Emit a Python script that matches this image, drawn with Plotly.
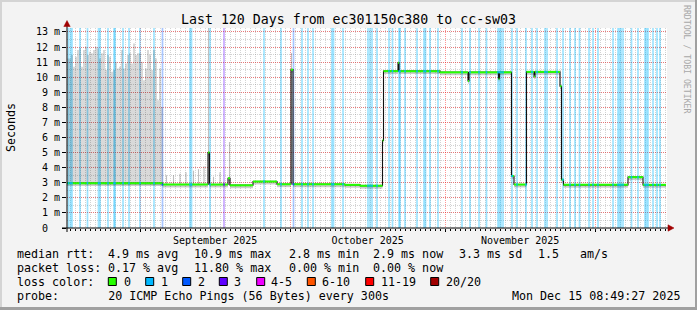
import bisect
from datetime import datetime, timedelta
import plotly.graph_objects as go

# ---------------- data ----------------
END = datetime(2025, 12, 15, 8, 49, 27)
SPAN_DAYS = 120
START = END - timedelta(days=SPAN_DAYS)
Y_MAX = 13.26

title_text = "Last 120 Days from ec301150c380 to cc-sw03"

# median rtt (ms) as step changes, x = days since START
median_day = [0.0, 19.1, 28.2, 28.5, 32.2, 32.6, 37.2, 42.0, 44.8, 45.2,
              55.6, 58.6, 63.1, 63.3, 66.2, 66.4, 74.6, 80.2, 80.4, 86.3,
              86.5, 88.9, 89.4, 91.9, 93.4, 93.6, 98.6, 98.9, 99.3, 112.2,
              115.2]
median_ms = [2.97, 2.88, 5.0, 2.88, 3.3, 2.83, 3.08, 2.9, 10.5, 2.9,
             2.86, 2.8, 5.8, 10.4, 10.95, 10.4, 10.32, 9.75, 10.32, 9.9,
             10.32, 3.45, 2.88, 10.35, 10.05, 10.35, 9.4, 3.2, 2.86, 3.37,
             2.86]
median_end_day = 119.8

# heavy smoke at the start (0.4 day columns), top of smoke in ms
smoke_col_days = 0.4
smoke_top_ms = [11.24, 11.24, 11.47, 10.69, 11.36, 11.8, 11.91, 10.69, 11.8, 12.02,
                11.47, 11.69, 11.58, 11.8, 12.02, 11.91, 11.24, 11.58, 11.8, 10.47,
                11.47, 11.36, 10.36, 10.47, 11.02, 10.58, 10.69, 11.8, 10.58, 10.91,
                11.47, 11.58, 10.91, 12.24, 11.47, 11.58, 11.58, 11.02, 9.8, 10.58,
                11.8, 11.47, 10.47, 11.8, 11.24, 8.47, 10.58, 8.02]

# isolated smoke spikes
spike_day = [19.9, 21.3, 22.6, 23.8, 25.3, 26.3, 27.4, 28.3, 29.3, 30.6, 32.5, 44.9]
spike_low = [2.9, 2.9, 2.9, 2.9, 2.9, 2.9, 2.9, 2.9, 2.9, 2.85, 2.85, 2.9]
spike_high = [3.5, 3.5, 3.6, 3.7, 3.8, 3.9, 4.1, 13.3, 3.4, 3.7, 5.7, 11.6]

# packet-loss events (day, loss bucket)
loss_day = [0.3, 0.7, 1.0, 2.6, 4.1, 6.3, 6.6, 8.2, 9.4, 9.6, 11.2, 12.4, 14.6, 17.4,
            19.1, 24.6, 24.9, 28.6, 31.4, 39.4, 42.8, 45.3, 47.0, 48.2, 49.2, 53.0,
            53.3, 55.2, 60.2, 60.6, 61.0, 62.0, 64.4, 65.1, 66.4, 66.6, 67.6, 70.0,
            71.4, 71.7, 72.6, 74.2, 79.0, 80.6, 82.4, 83.9, 86.2, 86.5, 86.8, 87.2,
            89.0, 90.0, 91.8, 93.0, 94.0, 95.6, 96.0, 98.0, 99.2, 100.6, 101.6, 102.5,
            104.4, 105.2, 106.2, 109.2, 110.2, 110.5, 110.8, 111.2, 112.9, 114.2,
            115.6, 115.9, 116.2, 117.2, 118.0, 118.6]
loss_cat = ["1", "1", "1", "1", "1", "1", "1", "1", "1", "1", "1", "1", "1", "1",
            "2", "1", "1", "1", "3", "1", "1", "2", "1", "1", "1", "1",
            "1", "1", "1", "1", "1", "1", "1", "1", "1", "1", "1", "1",
            "1", "1", "1", "1", "1", "1", "1", "1", "1", "1", "1", "1",
            "1", "1", "1", "1", "1", "1", "1", "1", "1", "1", "1", "1",
            "1", "1", "1", "1", "1", "1", "1", "1", "1", "1",
            "1", "1", "1", "1", "1", "1"]

loss_labels = ["0", "1", "2", "3", "4-5", "6-10", "11-19", "20/20"]
loss_colors = ["#26ff00", "#00b8ff", "#0059ff", "#5e00ff", "#f000ff", "#ff5500", "#ff0000", "#a10000"]
loss_light = {"1": "rgba(0,184,255,0.38)", "2": "rgba(0,89,255,0.34)", "3": "rgba(94,0,255,0.34)"}

y_tick_vals = list(range(0, 14))
y_tick_text = ["0\u00a0\u00a0"] + ["%d m" % v for v in range(1, 14)]

# legend pieces: (text, left x in px)
rtt_pieces = [("median rtt:", 15.5), ("4.9 ms avg", 106.8), ("10.9 ms max", 192.6),
              ("2.8 ms min", 288.0), ("2.9 ms now", 371.6), ("3.3 ms sd", 457.6),
              ("1.5", 536.6), ("am/s", 578.6)]
loss_pieces = [("packet loss:", 15.5), ("0.17 % avg", 106.8), ("11.80 % max", 192.6),
               ("0.00 % min", 288.0), ("0.00 % now", 371.6)]
probe_text = "probe:       20 ICMP Echo Pings (56 Bytes) every 300s"
date_text = "Mon Dec 15 08:49:27 2025"

# ---------------- helpers ----------------
DAY_MS = 86400000
FONT = "DejaVu Sans Mono"


def to_dt(d):
    return START + timedelta(days=d)


def median_at(d):
    i = bisect.bisect_right(median_day, d) - 1
    return median_ms[max(i, 0)]


L, T, W, H = 67, 28, 600, 200


def px(x):
    return (x - L) / W


def py(y):
    return (T + H - y) / H


def nb(s):
    return s.replace(" ", "\u00a0")


fig = go.Figure()

# loss background bars
for cat, col in loss_light.items():
    xs = [to_dt(d) for d, c in zip(loss_day, loss_cat) if c == cat]
    fig.add_bar(x=xs, y=[Y_MAX] * len(xs), width=0.34 * DAY_MS,
                marker=dict(color=col, line=dict(width=0)), hoverinfo="skip")

# heavy smoke as one filled step polygon
top_x, top_y = [], []
for i, top in enumerate(smoke_top_ms):
    d0 = i * smoke_col_days
    top_x += [to_dt(d0), to_dt(d0 + smoke_col_days)]
    top_y += [top, top]
n_cols = len(smoke_top_ms)
bot_d = [n_cols * smoke_col_days, 0.0]
poly_x = top_x + [to_dt(d) for d in bot_d] + [top_x[0]]
poly_y = top_y + [median_at(d) - 0.05 for d in bot_d] + [top_y[0]]
fig.add_scatter(x=poly_x, y=poly_y, mode="lines", fill="toself",
                fillcolor="rgba(0,0,0,0.15)", line=dict(width=0), hoverinfo="skip")

# smoke spikes
fig.add_bar(x=[to_dt(d) for d in spike_day],
            y=[h - l for h, l in zip(spike_high, spike_low)], base=spike_low,
            width=0.22 * DAY_MS,
            marker=dict(color="rgba(0,0,0,0.25)", line=dict(width=0)), hoverinfo="skip")

# horizontal pieces of the median
ends = median_day[1:] + [median_end_day]
gx, gy = [], []
for d0, d1, v in zip(median_day, ends, median_ms):
    gx += [to_dt(d0), to_dt(d1), None]
    gy += [v, v, None]

# smoke band around the median
fig.add_scatter(x=gx, y=[None if v is None else v - 0.06 for v in gy], mode="lines",
                line=dict(color="rgba(0,0,0,0.2)", width=4), hoverinfo="skip")

# median as step line (black transitions)
step_x = [to_dt(d) for d in median_day] + [to_dt(median_end_day)]
step_y = median_ms + [median_ms[-1]]
fig.add_scatter(x=step_x, y=step_y, mode="lines", line=dict(shape="hv", color="#111111", width=1.1),
                hoverinfo="skip")

# green (0 loss) horizontal segments
fig.add_scatter(x=gx, y=gy, mode="lines", line=dict(color=loss_colors[0], width=2), hoverinfo="skip")

# loss-coloured median pieces
dark = {"1": loss_colors[1], "2": loss_colors[2], "3": loss_colors[3]}
for cat, col in dark.items():
    lx, ly = [], []
    for d, c in zip(loss_day, loss_cat):
        if c != cat:
            continue
        v = median_at(d)
        lx += [to_dt(d - 0.15), to_dt(d + 0.15), None]
        ly += [v, v, None]
    fig.add_scatter(x=lx, y=ly, mode="lines", line=dict(color=col, width=2), hoverinfo="skip")

# ---------------- layout ----------------
grid_major = "rgba(255,0,0,0.42)"
grid_minor = "rgba(120,120,120,0.33)"

fig.update_layout(
    width=697, height=310, autosize=False,
    margin=dict(l=L, r=697 - L - W, t=T, b=310 - T - H, pad=0),
    paper_bgcolor="#f3f3f3", plot_bgcolor="#ffffff",
    showlegend=False, barmode="overlay",
    font=dict(family=FONT, color="#000000", size=10),
    xaxis=dict(
        type="date", range=[START, END], showline=False, zeroline=False,
        tickmode="linear", tick0="2025-08-01", dtick="M1",
        ticklabelmode="period", tickformat="%B %Y",
        ticks="outside", ticklen=3, tickcolor="#000", tickwidth=1,
        showgrid=True, gridcolor=grid_major, griddash="1px,1px", gridwidth=1,
        tickfont=dict(family=FONT, size=10, color="#000"),
        minor=dict(dtick=DAY_MS, tick0="2025-08-01", showgrid=True, gridcolor=grid_minor,
                   griddash="1px,1px", gridwidth=1, ticks="outside", ticklen=2, tickcolor="#000"),
    ),
    yaxis=dict(
        range=[0, Y_MAX], showline=False, zeroline=False,
        tickmode="array", tickvals=y_tick_vals, ticktext=y_tick_text,
        ticks="outside", ticklen=4, tickcolor="#000",
        showgrid=True, gridcolor=grid_major, griddash="1px,1px", gridwidth=1,
        tickfont=dict(family=FONT, size=10, color="#000"),
        minor=dict(dtick=0.5, showgrid=True, gridcolor=grid_minor, griddash="1px,1px", gridwidth=1),
    ),
)

shapes = []
# image border
shapes.append(dict(type="rect", xref="paper", yref="paper", x0=px(0), x1=px(697), y0=py(0), y1=py(2),
                   fillcolor="#d4d4d4", line=dict(width=0), layer="below"))
shapes.append(dict(type="rect", xref="paper", yref="paper", x0=px(0), x1=px(2), y0=py(0), y1=py(310),
                   fillcolor="#d4d4d4", line=dict(width=0), layer="below"))
shapes.append(dict(type="rect", xref="paper", yref="paper", x0=px(695), x1=px(697), y0=py(0), y1=py(310),
                   fillcolor="#a0a0a0", line=dict(width=0)))
shapes.append(dict(type="rect", xref="paper", yref="paper", x0=px(0), x1=px(697), y0=py(307), y1=py(310),
                   fillcolor="#a0a0a0", line=dict(width=0)))
# axis lines
shapes.append(dict(type="line", xref="paper", yref="paper", x0=px(62), x1=px(669), y0=py(228), y1=py(228),
                   line=dict(color="#000", width=1)))
shapes.append(dict(type="line", xref="paper", yref="paper", x0=px(67), x1=px(67), y0=py(232), y1=py(25),
                   line=dict(color="#000", width=1)))
# arrows
arrow_col = "#a10000"
shapes.append(dict(type="path", xref="paper", yref="paper",
                   path="M %f %f L %f %f L %f %f Z" % (px(67), py(20.5), px(63.8), py(26.5), px(70.2), py(26.5)),
                   fillcolor=arrow_col, line=dict(color=arrow_col, width=0.5)))
shapes.append(dict(type="path", xref="paper", yref="paper",
                   path="M %f %f L %f %f L %f %f Z" % (px(674), py(228), px(668), py(224.8), px(668), py(231.2)),
                   fillcolor=arrow_col, line=dict(color=arrow_col, width=0.5)))

annotations = []


def add_text(x, y, s, size=11.66, anchor="left", color="#000", angle=0):
    annotations.append(dict(xref="paper", yref="paper", x=px(x), y=py(y), text=nb(s), showarrow=False,
                            xanchor=anchor, yanchor="middle", borderpad=0, textangle=angle,
                            font=dict(family=FONT, size=size, color=color)))


add_text(348, 19, title_text, size=13.25, anchor="center")
add_text(11, 128, "Seconds", anchor="center", angle=-90)
add_text(687, 59, "RRDTOOL / TOBI OETIKER", size=8.2, anchor="center", color="#a8a8a8", angle=90)

row_y = [254.3, 267.7, 281.7, 296]
for s, x in rtt_pieces:
    add_text(x, row_y[0], s)
for s, x in loss_pieces:
    add_text(x, row_y[1], s)
add_text(15.5, row_y[2], "loss color:")
add_text(15.5, row_y[3], probe_text)
add_text(681, row_y[3], date_text, anchor="right")

sq_x = [108.3, 145.7, 182.7, 219.3, 256.7, 307.3, 365.7, 430.7]
lab_x = [122.5, 159.5, 196.5, 233.0, 270.0, 320.5, 380.0, 445.0]
for sx0, lx0, lab, col in zip(sq_x, lab_x, loss_labels, loss_colors):
    shapes.append(dict(type="rect", xref="paper", yref="paper", x0=px(sx0), x1=px(sx0 + 8),
                       y0=py(277.5), y1=py(285.5), fillcolor=col, line=dict(color="#000", width=1)))
    add_text(lx0, row_y[2], lab)

fig.update_layout(shapes=shapes, annotations=annotations)
fig.write_html("out.html")
